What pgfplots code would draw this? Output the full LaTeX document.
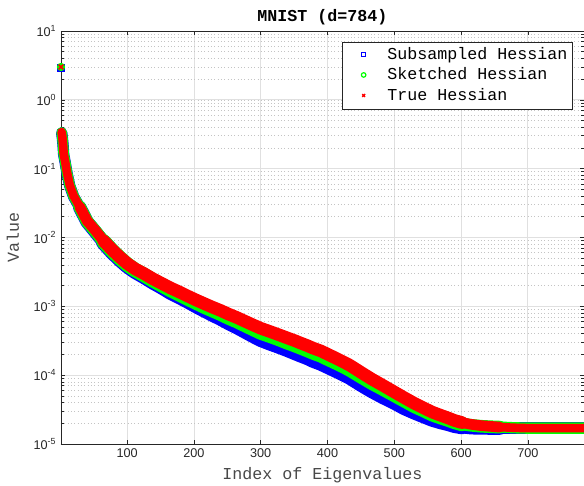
\documentclass[border=0pt]{standalone}
\usepackage{fontspec}
\setmainfont{Liberation Mono}
\newfontfamily\sansf{Liberation Sans}
\usepackage{pgfplots}
\pgfplotsset{compat=1.18}
\usepackage{pgfplotstable}
\definecolor{axgray}{HTML}{262626}
\definecolor{majgrid}{HTML}{E0E0E0}
\definecolor{mingrid}{HTML}{C4C4C4}
\definecolor{labgray}{HTML}{484848}
\definecolor{mblue}{RGB}{0,0,255}
\definecolor{mgreen}{RGB}{0,255,0}
\definecolor{mred}{RGB}{255,0,0}

% Subsampled Hessian
\pgfplotstableread{
idx val
1 2.93
1.5 nan
2 0.332
3 0.283
4 0.225
5 0.161
7 0.127
10 0.086
14 0.0567
20 0.0391
29 0.0274
40 0.0169
52 0.0122
65 0.0085
77 0.00632
89 0.00485
100 0.00392
112 0.00323
125 0.00274
139 0.00226
152 0.00192
165 0.00161
178 0.00139
190 0.00121
203 0.00103
215 0.000894
228 0.000770
240 0.000675
252 0.000584
264 0.000511
276 0.000442
288 0.000382
300 0.000332
314 0.000294
326 0.000267
339 0.000239
350 0.000216
359 0.000199
370 0.000181
378 0.000166
390 0.000150
400 0.000135
416 0.000114
433 0.0000946
450 0.0000744
466 0.0000602
483 0.0000491
500 0.0000408
515 0.0000340
530 0.0000293
545 0.0000256
557 0.0000230
570 0.0000211
580 0.0000200
590 0.0000187
601 0.0000179
615 0.0000172
630 0.0000171
645 0.0000170
658 0.0000170
680 0.0000170
700 0.0000170
740 0.0000170
784 0.0000170
}\subdata

% Sketched Hessian
\pgfplotstableread{
idx val
1 3.0
1.5 nan
2 0.336
3 0.287
4 0.227
5 0.163
7 0.129
10 0.087
14 0.0573
20 0.0395
29 0.0277
40 0.0172
52 0.0125
65 0.0087
77 0.00652
89 0.00503
100 0.00406
112 0.00337
125 0.00287
139 0.00238
152 0.00203
165 0.00173
178 0.00150
190 0.00131
203 0.00114
215 0.00100
228 0.000881
240 0.000785
252 0.000689
264 0.000615
276 0.000540
288 0.000475
300 0.000418
314 0.000375
326 0.000340
339 0.000303
350 0.000277
359 0.000256
370 0.000232
378 0.000215
390 0.000195
400 0.000175
416 0.000148
433 0.000122
450 0.0000969
466 0.0000784
483 0.0000640
500 0.0000520
515 0.0000433
530 0.0000360
545 0.0000309
557 0.0000271
570 0.0000245
580 0.0000228
590 0.0000210
601 0.0000196
615 0.0000187
630 0.0000181
645 0.0000178
658 0.0000176
680 0.0000172
700 0.0000170
740 0.0000170
784 0.0000170
}\skdata

% True Hessian
\pgfplotstableread{
idx val
1 3.0
1.5 nan
2 0.34
3 0.29
4 0.23
5 0.165
7 0.13
10 0.088
14 0.058
20 0.040
29 0.028
40 0.0175
52 0.0128
65 0.0089
77 0.0067
89 0.0052
100 0.0042
112 0.0035
125 0.0030
139 0.0025
152 0.00215
165 0.00185
178 0.00162
190 0.00142
203 0.00124
215 0.00110
228 0.00097
240 0.00087
252 0.00077
264 0.00069
276 0.00061
288 0.00054
300 0.00048
314 0.00043
326 0.00039
339 0.00035
350 0.00032
359 0.000295
370 0.000268
378 0.000248
390 0.000225
400 0.000202
416 0.000170
433 0.000140
450 0.000110
466 0.000088
483 0.000071
500 0.000057
515 0.000047
530 0.000039
545 0.000033
557 0.000029
570 0.000026
580 0.000024
590 0.000022
601 0.0000205
615 0.0000193
630 0.0000185
645 0.0000180
658 0.0000176
680 0.0000172
700 0.0000170
740 0.0000170
784 0.0000170
}\truedata

\pgfplotsset{band/.style={line cap=round, line join=round, forget plot}}
% #1 colour, #2 table, #3..#7 widths of the five index ranges
\newcommand\bandplot[7]{%
  \addplot[#1, band, line width=#3, restrict x to domain=2:29] table[x=idx, y=val] {#2};
  \addplot[#1, band, line width=#4, restrict x to domain=29:65] table[x=idx, y=val] {#2};
  \addplot[#1, band, line width=#5, restrict x to domain=65:601] table[x=idx, y=val] {#2};
  \addplot[#1, band, line width=#6, restrict x to domain=601:658] table[x=idx, y=val] {#2};
  \addplot[#1, band, line width=#7, restrict x to domain=658:784] table[x=idx, y=val] {#2};
}

\begin{document}
\begin{tikzpicture}
\begin{axis}[
  name=ax,
  scale only axis,
  width=392.25pt, height=309.75pt,
  ymode=log,
  xmin=1, xmax=784, ymin=1e-5, ymax=1e1,
  clip=false,
  xtick={100,200,300,400,500,600,700},
  ytick={1e-5,1e-4,1e-3,1e-2,1e-1,1e0,1e1},
  yticklabels={10\textsuperscript{-5},10\textsuperscript{-4},10\textsuperscript{-3},10\textsuperscript{-2},10\textsuperscript{-1},10\textsuperscript{0},10\textsuperscript{1}},
  /pgf/number format/assume math mode=true,
  tick label style={font=\sansf\fontsize{9.5}{11}\selectfont, color=axgray},
  xmajorgrids, ymajorgrids, yminorgrids,
  major grid style={majgrid, line width=0.6pt},
  minor grid style={mingrid, line width=0.5pt, dash pattern=on 0.5pt off 2pt},
  axis line style={axgray, line width=0.6pt},
  every tick/.style={axgray, line width=0.5pt},
  major tick length=3pt, minor tick length=2pt,
  tick align=inside,
  title={MNIST (d=784)},
  title style={font=\fontsize{12.5}{14}\selectfont\bfseries, at={(axis description cs:0.5,1)}, anchor=base, yshift=1pt},
  xlabel={Index of Eigenvalues},
  ylabel={Value},
  xlabel style={font=\fontsize{12.5}{14}\selectfont, color=labgray, at={(axis description cs:0.5,0)}, anchor=base, yshift=-26.25pt},
  ylabel style={font=\fontsize{12.5}{14}\selectfont, color=labgray, at={(axis description cs:-0.0803,0.5)}, anchor=base},
  unbounded coords=jump,
  legend image code/.code={\path (-11.75pt,0pt) (3pt,0pt); \draw[#1] plot coordinates {(0pt,3.5pt)};},
  legend style={at={(0.979,0.973)}, anchor=north east, draw=axgray, line width=0.5pt, fill=white,
    font=\fontsize{12.5}{14}\selectfont, inner xsep=4pt, inner ysep=2pt, row sep=0pt, column sep=14.5pt,
    nodes={text height=8pt, text depth=2.5pt, inner ysep=2.45pt, inner xsep=0pt, anchor=base west}},
  legend cell align=left,
]
\bandplot{mblue}{\subdata}{8.5pt}{10pt}{11.5pt}{10pt}{8.5pt}
\bandplot{mgreen}{\skdata}{8pt}{9.5pt}{11pt}{9.5pt}{8.5pt}
\bandplot{mred}{\truedata}{6.5pt}{8pt}{9.5pt}{8pt}{6.5pt}
% first eigenvalue markers
\addplot[mblue, only marks, mark=square*, mark size=2.5pt, mark options={line width=0.8pt}, forget plot, restrict x to domain=0.5:1.2] table[x=idx, y=val] {\subdata};
\addplot[mgreen, only marks, mark=*, mark size=2.7pt, mark options={line width=0.8pt}, forget plot, restrict x to domain=0.5:1.2] table[x=idx, y=val] {\skdata};
\addplot[mred, only marks, mark=x, mark size=2.4pt, mark options={line width=1.3pt}, forget plot, restrict x to domain=0.5:1.2] table[x=idx, y=val] {\truedata};
\addlegendimage{only marks, mark=square, mblue, mark size=1.5pt, mark options={line width=0.8pt}}
\addlegendentry{Subsampled Hessian}
\addlegendimage{only marks, mark=o, mgreen, mark size=1.7pt, mark options={line width=0.9pt}}
\addlegendentry{Sketched Hessian}
\addlegendimage{only marks, mark=x, mred, mark size=1.5pt, mark options={line width=1pt}}
\addlegendentry{True Hessian}
\end{axis}
\pgfresetboundingbox
\path[use as bounding box] ([xshift=-45.75pt,yshift=-31.5pt]ax.south west) rectangle ([yshift=23.25pt]ax.north east);
\end{tikzpicture}
\end{document}
